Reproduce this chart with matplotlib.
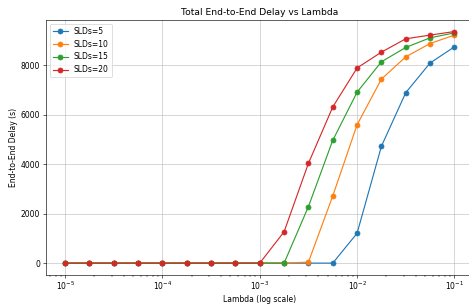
import numpy as np
import matplotlib
matplotlib.use("Agg")
import matplotlib.pyplot as plt

# lambda values, 4 per decade
lambdas = [1e-5, 1.778e-5, 3.162e-5, 5.623e-5,
           1e-4, 1.778e-4, 3.162e-4, 5.623e-4,
           1e-3, 1.778e-3, 3.162e-3, 5.623e-3,
           1e-2, 1.778e-2, 3.162e-2, 5.623e-2,
           1e-1]

delay_5 = [0, 0, 0, 0, 0, 0, 0, 0, 0, 0, 0, 0,
           1210, 4730, 6900, 8100, 8755]
delay_10 = [0, 0, 0, 0, 0, 0, 0, 0, 0, 0, 40, 2720,
            5600, 7450, 8350, 8890, 9230]
delay_15 = [0, 0, 0, 0, 0, 0, 0, 0, 0, 0, 2290, 4970,
            6920, 8150, 8730, 9120, 9320]
delay_20 = [0, 0, 0, 0, 0, 0, 0, 0, 0, 1270, 4040, 6320,
            7900, 8540, 9080, 9230, 9375]

series = {"SLDs=5": delay_5, "SLDs=10": delay_10,
          "SLDs=15": delay_15, "SLDs=20": delay_20}

dpi = 55
fig = plt.figure(figsize=(469 / dpi, 304 / dpi), dpi=dpi)
ax = fig.add_axes([0.0974, 0.0964, 0.913, 0.838])

for name, vals in series.items():
    ax.plot(lambdas, vals, marker='o', markersize=6.5, label=name)

ax.set_xscale('log')
ax.set_title("Total End-to-End Delay vs Lambda")
ax.set_xlabel("Lambda (log scale)")
ax.set_ylabel("End-to-End Delay (s)")
ax.grid(True, alpha=0.5, linewidth=1.3)
ax.legend(loc='upper left')

fig.savefig("out.png", dpi=dpi)
